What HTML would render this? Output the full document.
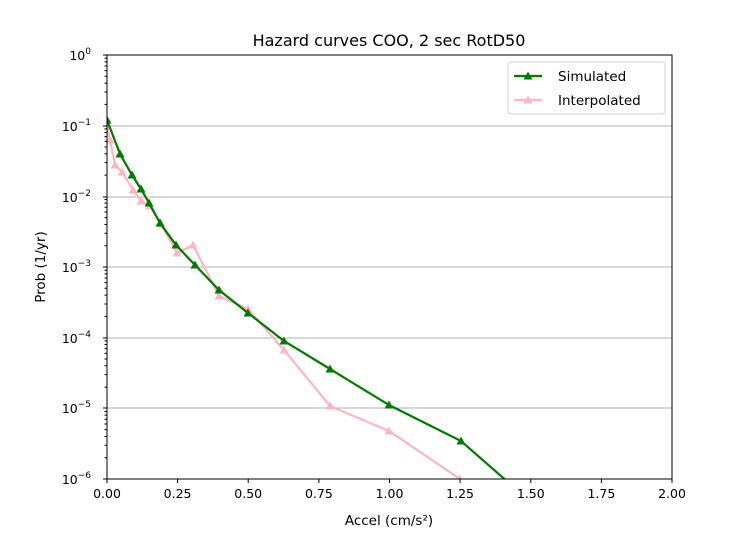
<!DOCTYPE html><html><head><style>body{margin:0;background:#fff}svg text{font-family:"DejaVu Sans","Liberation Sans",sans-serif;fill:#000}</style></head><body>
<svg width="750" height="550" xmlns="http://www.w3.org/2000/svg">
<defs><clipPath id="c"><rect x="107" y="55" width="565" height="424"/></clipPath>
<marker id="g" viewBox="-5 -5 10 10" markerWidth="10" markerHeight="10" markerUnits="userSpaceOnUse"><path d="M0,-4.5 L4.5,3.5 L-4.5,3.5Z" fill="#007a00"/></marker>
<marker id="p" viewBox="-5 -5 10 10" markerWidth="10" markerHeight="10" markerUnits="userSpaceOnUse"><path d="M0,-4.5 L4.5,3.5 L-4.5,3.5Z" fill="#ffb6c1"/></marker>
<path id="mt" d="M107,49.4h-2.5M107,36.95h-2.5M107,28.12h-2.5M107,21.3h-2.5M107,15.68h-2.5M107,10.95h-2.5M107,6.85h-2.5M107,3.23h-2.5" stroke="#000" stroke-width="1"/></defs>
<g stroke="#b0b0b0" stroke-width="1"><line x1="107" x2="672" y1="126" y2="126"/><line x1="107" x2="672" y1="197" y2="197"/><line x1="107" x2="672" y1="267" y2="267"/><line x1="107" x2="672" y1="338" y2="338"/><line x1="107" x2="672" y1="408" y2="408"/></g>
<g clip-path="url(#c)" fill="none" stroke-width="2.2">
<polyline stroke="#ffb6c1" marker-start="url(#p)" marker-mid="url(#p)" marker-end="url(#p)" points="107,125 110,140 115,165 122,172 133,190 141,201 150,206 161,224 177,253 193,245 219,296 248,309 284,350 330,406 389,431 460,479 470,488"/>
<polyline stroke="#007a00" marker-start="url(#g)" marker-mid="url(#g)" marker-end="url(#g)" points="107,120 120,154 132,175 141,189 149,203 160,223 176,245 195,265 219,290 248,313 284,341 330,369 389,405 461,441 525,497"/>
</g>
<rect x="107" y="55" width="565" height="424" fill="none" stroke="#000" stroke-width="1"/>
<use href="#mt" y="55"/><use href="#mt" y="125.67"/><use href="#mt" y="196.33"/><use href="#mt" y="267"/><use href="#mt" y="337.67"/><use href="#mt" y="408.33"/>
<g stroke="#000"><line x1="107" x2="103" y1="55" y2="55"/><line x1="107" x2="103" y1="126" y2="126"/><line x1="107" x2="103" y1="197" y2="197"/><line x1="107" x2="103" y1="267" y2="267"/><line x1="107" x2="103" y1="338" y2="338"/><line x1="107" x2="103" y1="408" y2="408"/><line x1="107" x2="103" y1="479" y2="479"/>
<line x1="107" x2="107" y1="479" y2="483"/><line x1="177.6" x2="177.6" y1="479" y2="483"/><line x1="248.2" x2="248.2" y1="479" y2="483"/><line x1="318.9" x2="318.9" y1="479" y2="483"/><line x1="389.5" x2="389.5" y1="479" y2="483"/><line x1="460.1" x2="460.1" y1="479" y2="483"/><line x1="530.8" x2="530.8" y1="479" y2="483"/><line x1="601.4" x2="601.4" y1="479" y2="483"/><line x1="672" x2="672" y1="479" y2="483"/></g>
<g font-size="12.5" text-anchor="middle"><text x="107" y="498">0.00</text><text x="177.6" y="498">0.25</text><text x="248.2" y="498">0.50</text><text x="318.9" y="498">0.75</text><text x="389.5" y="498">1.00</text><text x="460.1" y="498">1.25</text><text x="530.8" y="498">1.50</text><text x="601.4" y="498">1.75</text><text x="672" y="498">2.00</text></g>
<g font-size="12.5" text-anchor="end"><text x="91" y="60">10<tspan font-size="9" dy="-6">0</tspan></text><text x="91" y="131">10<tspan font-size="9" dy="-6">−1</tspan></text><text x="91" y="202">10<tspan font-size="9" dy="-6">−2</tspan></text><text x="91" y="272">10<tspan font-size="9" dy="-6">−3</tspan></text><text x="91" y="343">10<tspan font-size="9" dy="-6">−4</tspan></text><text x="91" y="413">10<tspan font-size="9" dy="-6">−5</tspan></text><text x="91" y="484">10<tspan font-size="9" dy="-6">−6</tspan></text></g>
<text x="389" y="525" font-size="13.5" text-anchor="middle">Accel (cm/s²)</text>
<text x="45" y="267" font-size="13.5" text-anchor="middle" transform="rotate(-90 45 267)">Prob (1/yr)</text>
<text x="389" y="46" font-size="16" text-anchor="middle">Hazard curves COO, 2 sec RotD50</text>
<rect x="508" y="62" width="157" height="52" rx="3" fill="#fff" stroke="#d0d0d0"/>
<line x1="514" x2="542" y1="76" y2="76" stroke="#007a00" stroke-width="2.2"/><path d="M528,71.5 L532.5,79.5 L523.5,79.5Z" fill="#007a00"/>
<line x1="514" x2="542" y1="100" y2="100" stroke="#ffb6c1" stroke-width="2.2"/><path d="M528,95.5 L532.5,103.5 L523.5,103.5Z" fill="#ffb6c1"/>
<text x="558" y="81" font-size="13.5">Simulated</text><text x="558" y="105" font-size="13.5">Interpolated</text>
</svg>
</body></html>
